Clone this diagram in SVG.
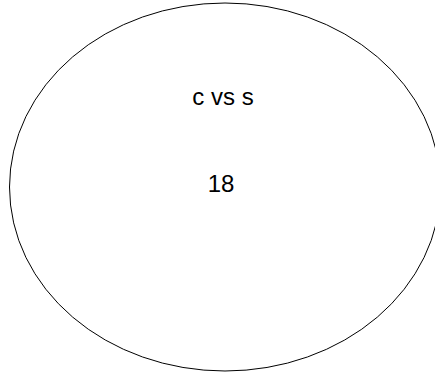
<svg xmlns="http://www.w3.org/2000/svg" width="435" height="373" viewBox="0 0 435 373">
<style>
.n{fill:#fff;stroke:#000;stroke-width:1}
.t{font-family:"Liberation Sans",Arial,sans-serif;font-size:24px;fill:#000;text-anchor:middle}
</style>
<rect width="435" height="373" fill="#fff"/>
<g id="node1">
<ellipse class="n" cx="225" cy="187" rx="215.5" ry="184"/>
<text class="t" x="223" y="105">c vs s</text>
<text class="t" x="221" y="192">18</text>
</g>
<g id="connectors"/>
</svg>
